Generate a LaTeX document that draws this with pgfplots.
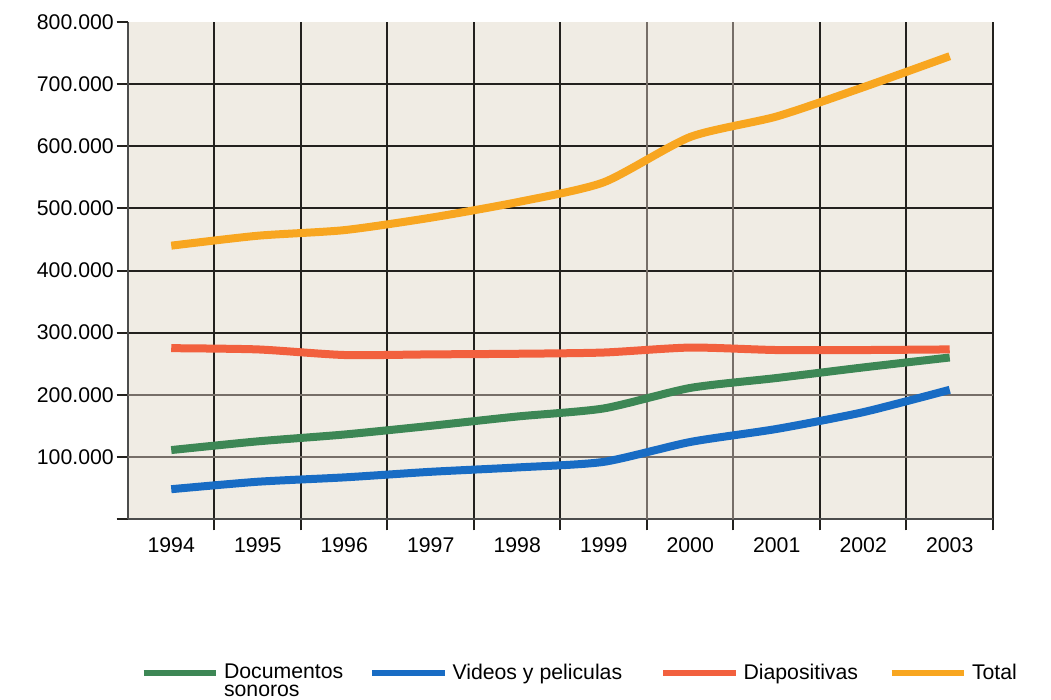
\documentclass[border=0pt]{standalone}
\usepackage{fontspec}
\setmainfont{Liberation Sans}
\usepackage{pgfplots}
\pgfplotsset{compat=1.18}

\definecolor{docgreen}{RGB}{61,135,85}
\definecolor{vidblue}{RGB}{24,108,196}
\definecolor{diared}{RGB}{242,96,62}
\definecolor{totorange}{RGB}{248,166,32}
\definecolor{bgbeige}{RGB}{240,236,228}
\definecolor{gridc}{RGB}{35,33,30}
\definecolor{gridgrey}{RGB}{118,110,104}

\begin{document}
\begin{tikzpicture}[x=1pt,y=1pt]
% page = 1051x699 px at 0.4pt per px, axis origin at px (128,519)
\useasboundingbox (-51.2,-72) rectangle (369.2,207.6);
\begin{axis}[
  at={(0,0)}, anchor=south west,
  width=346pt, height=198.8pt, scale only axis,
  xmin=-0.5, xmax=9.5, ymin=0, ymax=800000,
  axis x line*=bottom, axis y line*=left,
  axis line style={draw=black!70, line width=0.8pt},
  axis background/.style={fill=bgbeige},
  tick align=outside,
  major tick length=4.5pt,
  tick style={draw=gridc, line width=0.8pt},
  grid=major,
  major grid style={draw=gridc, line width=0.8pt},
  tick label style={font=\fontsize{8.5}{10}\selectfont},
  % boundaries between years carry the grid
  xtick={0.5,1.5,2.5,3.5,4.5,5.5,6.5,7.5,8.5,9.5},
  xticklabels={},
  extra x ticks={0,1,2,3,4,5,6,7,8,9},
  extra x tick labels={1994,1995,1996,1997,1998,1999,2000,2001,2002,2003},
  extra x tick style={grid=none, major tick length=0pt,
    tick label style={yshift=-4pt}},
  ytick={0,100000,200000,300000,400000,500000,600000,700000},
  yticklabels={,100.000,200.000,300.000,400.000,500.000,600.000,700.000},
  extra y ticks={800000},
  extra y tick labels={800.000},
  extra y tick style={grid=none},
  scaled y ticks=false,
  yticklabel style={inner sep=1pt},
  legend columns=4,
  legend cell align=left,
  legend style={at={(0.0139,-0.29)}, anchor=north west, draw=none, fill=none,
    inner sep=0pt, column sep=0pt,
    font=\fontsize{8.5}{7}\selectfont,
    nodes={inner sep=0pt},
    /tikz/every odd column/.append style={column sep=2pt}},
  legend image code/.code={\draw[#1, line width=2.4pt, line cap=butt] (0pt,0pt) -- (29pt,0pt);},
  every axis plot/.append style={line width=3.2pt, line cap=butt, line join=round, smooth, tension=0.4},
]

% a few grid lines are printed lighter in the original
\draw[gridgrey, line width=0.8pt] (axis cs:-0.5,100000) -- (axis cs:9.5,100000);
\draw[gridgrey, line width=0.8pt] (axis cs:-0.5,200000) -- (axis cs:9.5,200000);
\draw[gridgrey, line width=0.8pt] (axis cs:5.5,0) -- (axis cs:5.5,800000);
\draw[gridgrey, line width=0.8pt] (axis cs:6.5,0) -- (axis cs:6.5,800000);

\addplot[docgreen] coordinates {
  (0,111000) (1,125000) (2,136000) (3,150000) (4,165000)
  (5,178000) (6,211000) (7,227000) (8,244000) (9,260000)};
\addlegendentry{\makebox[58pt][l]{\vtop{\hbox{Documentos}\hbox{sonoros}}}}

\addplot[vidblue] coordinates {
  (0,48000) (1,60000) (2,67000) (3,76000) (4,83000)
  (5,92000) (6,124000) (7,145000) (8,172000) (9,208000)};
\addlegendentry{\makebox[83pt][l]{Videos y peliculas}}

\addplot[diared] coordinates {
  (0,275000) (1,273000) (2,264000) (3,265000) (4,266000)
  (5,268000) (6,276000) (7,272000) (8,272000) (9,273000)};
\addlegendentry{\makebox[58pt][l]{Diapositivas}}

\addplot[totorange] coordinates {
  (0,440000) (1,456000) (2,465000) (3,485000) (4,510000)
  (5,542000) (6,615000) (7,648000) (8,695000) (9,745000)};
\addlegendentry{Total}

\end{axis}
\end{tikzpicture}
\end{document}
